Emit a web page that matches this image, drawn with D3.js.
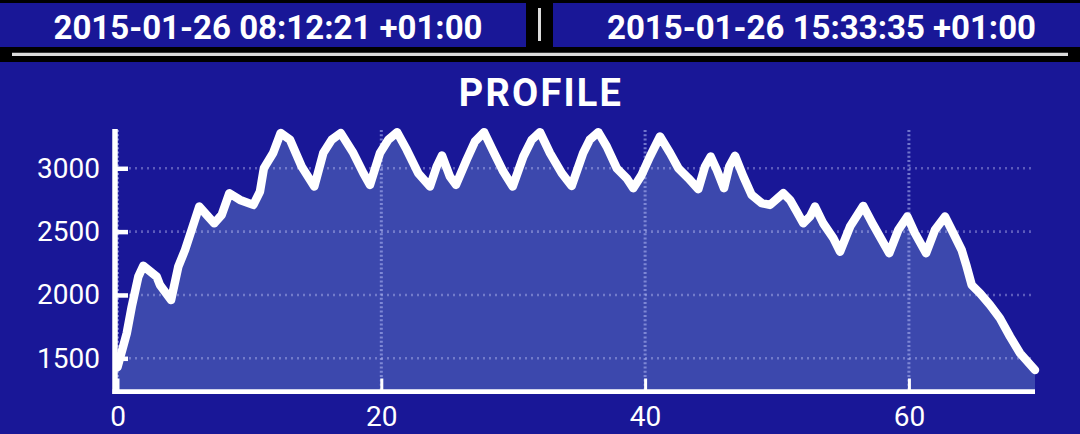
<!DOCTYPE html>
<html>
<head>
<meta charset="utf-8">
<script src="https://cdn.jsdelivr.net/npm/d3@7"></script>
<style>
  html, body { margin: 0; padding: 0; background: #000; }
  #viz { width: 1080px; height: 434px; }
  text { font-family: Roboto, "Noto Sans", sans-serif; fill: #fff; }
</style>
</head>
<body>
<div id="viz"></div>
<script>
// header timestamps
const startTime = "2015-01-26 08:12:21 +01:00";
const endTime = "2015-01-26 15:33:35 +01:00";
const chartTitle = "PROFILE";

// distance along the track
const distance = [
  0, 0.7, 1.08, 1.58, 1.96, 2.97, 3.22, 4.06, 4.61, 5.12,
  6.2, 6.76, 7.34, 7.9, 8.48, 9.29, 10.3, 10.8, 11.1, 11.8,
  12.37, 13.08, 13.96, 14.92, 15.6, 16.24, 16.92, 17.88, 18.64, 19.14,
  19.9, 20.53, 21.2, 21.93, 22.8, 23.69, 24.2, 24.6, 25.2, 25.66,
  26.47, 27.1, 27.79, 28.5, 29.25, 29.96, 30.77, 31.4, 32.03, 32.79,
  33.68, 34.43, 35.3, 35.8, 36.45, 37.09, 37.85, 38.6, 39.1, 39.74,
  40.37, 41.13, 41.89, 42.52, 43.28, 44.03, 44.54, 44.97, 45.43, 45.98,
  46.38, 46.82, 47.45, 48.08, 48.84, 49.47, 50.48, 50.99, 51.5, 51.99,
  52.5, 52.88, 53.5, 54.27, 54.78, 55.54, 56.54, 57.3, 57.94, 58.51,
  59.2, 59.88, 60.46, 61.3, 61.98, 62.74, 63.37, 64.0, 64.38, 64.76,
  65.39, 66.15, 66.9, 67.67, 68.43, 69.56
];

// elevation at each point
const elevation = [
  1430, 1697, 1908, 2145, 2230, 2145, 2079, 1960, 2224, 2355,
  2698, 2632, 2566, 2632, 2803, 2750, 2711, 2816, 3001, 3120,
  3278, 3225, 3014, 2856, 3120, 3225, 3278, 3120, 2961, 2869,
  3120, 3225, 3285, 3146, 2961, 2856, 3014, 3100, 2935, 2869,
  3067, 3211, 3285, 3132, 2974, 2856, 3093, 3225, 3285, 3120,
  2961, 2860, 3120, 3225, 3285, 3172, 3001, 2922, 2843, 2948,
  3093, 3251, 3120, 3001, 2922, 2835, 3014, 3093, 2988, 2843,
  3014, 3098, 2935, 2790, 2725, 2711, 2803, 2750, 2658, 2566,
  2619, 2698, 2566, 2448, 2342, 2540, 2703, 2553, 2435, 2330,
  2514, 2619, 2487, 2330, 2514, 2619, 2487, 2355, 2224, 2079,
  2014, 1921, 1816, 1671, 1540, 1408
];

const xTicks = [0, 20, 40, 60];
const yTicks = [1500, 2000, 2500, 3000];

const BG = "#191797";
const AREA = "#3c48ad";
const WHITE = "#ffffff";
const GREY = "#dcdcdc";

const width = 1080, height = 434;
const points = distance.map((d, i) => ({ x: d, y: elevation[i] }));

const svg = d3.select("#viz").append("svg")
  .attr("width", width)
  .attr("height", height)
  .style("display", "block");

// black backdrop
svg.append("rect").attr("width", width).attr("height", height).attr("fill", "#000");

// header boxes with the two timestamps
const header = svg.append("g");
[[0, 526, startTime], [553, width, endTime]].forEach(([x0, x1, label]) => {
  header.append("rect")
    .attr("x", x0).attr("y", 3)
    .attr("width", x1 - x0).attr("height", 44)
    .attr("fill", BG);
  header.append("text")
    .attr("x", (x0 + x1) / 2 + 5).attr("y", 38.5)
    .attr("text-anchor", "middle")
    .style("font-size", "33px")
    .style("font-weight", "bold")
    .text(label);
});
header.append("line")
  .attr("x1", 539.5).attr("x2", 539.5).attr("y1", 8).attr("y2", 41)
  .attr("stroke", GREY).attr("stroke-width", 3);
header.append("line")
  .attr("x1", 12).attr("x2", 1068).attr("y1", 54.3).attr("y2", 54.3)
  .attr("stroke", GREY).attr("stroke-width", 3.3);

// main panel
svg.append("rect")
  .attr("x", 0).attr("y", 62)
  .attr("width", width).attr("height", height - 62)
  .attr("fill", BG);

svg.append("text")
  .attr("x", 541).attr("y", 105.5)
  .attr("text-anchor", "middle")
  .style("font-size", "38px")
  .style("font-weight", "bold")
  .style("letter-spacing", "2.2px")
  .text(chartTitle);

// scales
const x = d3.scaleLinear().domain([0, d3.max(distance)]).range([117.5, 1035]);
const y = d3.scaleLinear().domain([1238, 3310]).range([391.5, 129]);

// area under the profile
const area = d3.area()
  .x(d => x(d.x))
  .y0(y.range()[0])
  .y1(d => y(d.y));

svg.append("path")
  .datum(points)
  .attr("d", area)
  .attr("fill", AREA);

// dotted grid
const grid = svg.append("g");
grid.selectAll(".hgrid")
  .data(yTicks)
  .join("line")
  .attr("x1", x.range()[0]).attr("x2", x.range()[1])
  .attr("y1", d => y(d)).attr("y2", d => y(d))
  .attr("stroke", "rgba(215,218,255,0.7)")
  .attr("stroke-width", 2.6)
  .attr("stroke-dasharray", "1,5");
grid.selectAll(".vgrid")
  .data(xTicks)
  .join("line")
  .attr("x1", d => x(d)).attr("x2", d => x(d))
  .attr("y1", 130).attr("y2", y.range()[0])
  .attr("stroke", "rgba(170,178,240,0.6)")
  .attr("stroke-width", 3)
  .attr("stroke-dasharray", "2,2.3");

// axes
const yAxis = svg.append("g")
  .attr("transform", "translate(115,0)")
  .call(d3.axisLeft(y).tickValues(yTicks).tickSize(-13).tickPadding(15).tickFormat(d3.format("d")));
const xAxis = svg.append("g")
  .attr("transform", `translate(0,${y.range()[0]})`)
  .call(d3.axisBottom(x).tickValues(xTicks).tickSize(-13).tickPadding(14.5).tickFormat(d3.format("d")));

[yAxis, xAxis].forEach(g => {
  g.select(".domain").remove();
  g.selectAll("text").style("font-size", "28px").style("font-family", "Roboto, sans-serif").attr("fill", WHITE);
});
yAxis.selectAll(".tick line").attr("stroke", WHITE).attr("stroke-width", 4.5);
xAxis.selectAll(".tick line").attr("stroke", WHITE).attr("stroke-width", 3);

svg.append("line")
  .attr("x1", 115).attr("x2", 115)
  .attr("y1", 129).attr("y2", 394)
  .attr("stroke", WHITE).attr("stroke-width", 5.5);
svg.append("line")
  .attr("x1", 112.5).attr("x2", x.range()[1])
  .attr("y1", 391.6).attr("y2", 391.6)
  .attr("stroke", WHITE).attr("stroke-width", 4.8);

// profile line
const line = d3.line()
  .x(d => x(d.x))
  .y(d => y(d.y));

svg.append("path")
  .datum(points)
  .attr("d", line)
  .attr("fill", "none")
  .attr("stroke", WHITE)
  .attr("stroke-width", 8.5)
  .attr("stroke-linejoin", "round")
  .attr("stroke-linecap", "round");
</script>
</body>
</html>
